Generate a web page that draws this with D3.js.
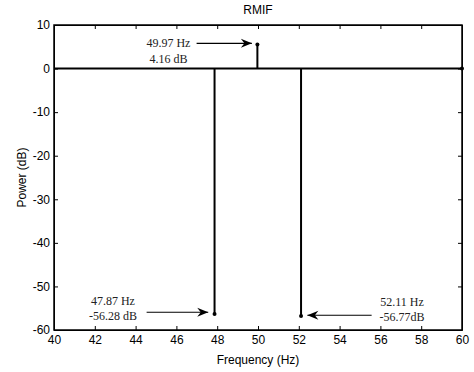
<!DOCTYPE html>
<html>
<head>
<meta charset="utf-8">
<script src="https://cdn.jsdelivr.net/npm/d3@7"></script>
<style>
  body { margin: 0; background: #fff; }
  .axis text { font-family: "Liberation Sans", Arial, sans-serif; font-size: 12px; fill: #000; }
  .axis line, .axis path { stroke: #000; }
  .note { font-family: "Liberation Serif", "Times New Roman", serif; font-size: 12px; fill: #222; }
</style>
</head>
<body>
<div id="chart"></div>
<script>
// peaks of the spectrum
const peakFreq = [47.87, 49.97, 52.11];
const peakPower = [-56.3, 5.5, -56.8];
const peakLabels = [["47.87 Hz", "-56.28 dB"], ["49.97 Hz", "4.16 dB"], ["52.11 Hz", "-56.77dB"]];
const xTicks = [40, 42, 44, 46, 48, 50, 52, 54, 56, 58, 60];
const yTicks = [10, 0, -10, -20, -30, -40, -50, -60];

const width = 474, height = 372;
const margin = { top: 25, right: 12, bottom: 42, left: 54 };
const w = width - margin.left - margin.right;
const h = height - margin.top - margin.bottom;

const svg = d3.select("#chart").append("svg")
  .attr("width", width)
  .attr("height", height);

const defs = svg.append("defs");
defs.append("marker")
  .attr("id", "head")
  .attr("viewBox", "-12 -6 14 12")
  .attr("refX", 0).attr("refY", 0)
  .attr("markerWidth", 14).attr("markerHeight", 12)
  .attr("markerUnits", "userSpaceOnUse")
  .attr("orient", "auto")
  .append("path")
  .attr("d", "M0,0 L-11,-4.5 L-7.5,0 L-11,4.5 Z")
  .attr("fill", "#000");

const g = svg.append("g")
  .attr("transform", "translate(" + margin.left + "," + margin.top + ")");

const x = d3.scaleLinear().domain([40, 60]).range([0, w]);
const y = d3.scaleLinear().domain([-60, 10]).range([h, 0]);
const plain = d => String(d); // hyphen minus, like the original

// axes with inward ticks (matlab style)
g.append("g").attr("class", "axis")
  .attr("transform", "translate(0," + h + ")")
  .call(d3.axisBottom(x).tickValues(xTicks).tickFormat(plain).tickSize(-4).tickSizeOuter(0).tickPadding(5));
g.append("g").attr("class", "axis")
  .call(d3.axisTop(x).tickValues(xTicks).tickSize(-4).tickSizeOuter(0).tickFormat(""));
g.append("g").attr("class", "axis")
  .call(d3.axisLeft(y).tickValues(yTicks).tickFormat(plain).tickSize(-4).tickSizeOuter(0).tickPadding(4));
g.append("g").attr("class", "axis")
  .attr("transform", "translate(" + w + ",0)")
  .call(d3.axisRight(y).tickValues(yTicks).tickSize(-4).tickSizeOuter(0).tickFormat(""));

g.append("rect")
  .attr("width", w).attr("height", h)
  .attr("fill", "none").attr("stroke", "#000").attr("stroke-width", 1.5);

// baseline at 0 dB
g.append("line")
  .attr("x1", x(40)).attr("x2", x(60))
  .attr("y1", y(0)).attr("y2", y(0))
  .attr("stroke", "#000").attr("stroke-width", 2);
g.append("circle")
  .attr("cx", x(60)).attr("cy", y(0)).attr("r", 2).attr("fill", "#000");

// stems
g.selectAll(".stem").data(peakFreq).enter().append("line")
  .attr("class", "stem")
  .attr("x1", d => x(d)).attr("x2", d => x(d))
  .attr("y1", y(0)).attr("y2", (d, i) => y(peakPower[i]))
  .attr("stroke", "#000").attr("stroke-width", 2);
g.selectAll(".dot").data(peakFreq).enter().append("circle")
  .attr("class", "dot")
  .attr("cx", d => x(d)).attr("cy", (d, i) => y(peakPower[i]))
  .attr("r", 2).attr("fill", "#000");

// annotations: label centre, two baselines, arrow tail -> head
const notes = [
  { tx: 42.89, ty: [-54.3, -57.7], ax: [44.54, 47.56], ay: -55.93 },
  { tx: 45.61, ty: [4.9, 1.35], ax: [46.99, 49.7], ay: 5.8 },
  { tx: 57.06, ty: [-54.5, -57.9], ax: [55.57, 52.42], ay: -56.62 }
];
notes.forEach((n, i) => {
  peakLabels[i].forEach((s, j) => {
    g.append("text").attr("class", "note")
      .attr("x", x(n.tx)).attr("y", y(n.ty[j]))
      .attr("text-anchor", "middle")
      .text(s);
  });
  g.append("line")
    .attr("x1", x(n.ax[0])).attr("x2", x(n.ax[1]))
    .attr("y1", y(n.ay)).attr("y2", y(n.ay))
    .attr("stroke", "#000").attr("stroke-width", 1.2)
    .attr("marker-end", "url(#head)");
});

// titles
svg.append("text")
  .attr("x", margin.left + w / 2).attr("y", 14)
  .attr("text-anchor", "middle")
  .style("font-family", "Liberation Sans, Arial, sans-serif").style("font-size", "12px")
  .text("RMIF");
svg.append("text")
  .attr("x", margin.left + w / 2).attr("y", 364)
  .attr("text-anchor", "middle")
  .style("font-family", "Liberation Sans, Arial, sans-serif").style("font-size", "12px")
  .text("Frequency (Hz)");
svg.append("text")
  .attr("transform", "translate(26," + (margin.top + h * 0.5) + ") rotate(-90)")
  .attr("text-anchor", "middle")
  .style("font-family", "Liberation Sans, Arial, sans-serif").style("font-size", "12px")
  .text("Power (dB)");
</script>
</body>
</html>
